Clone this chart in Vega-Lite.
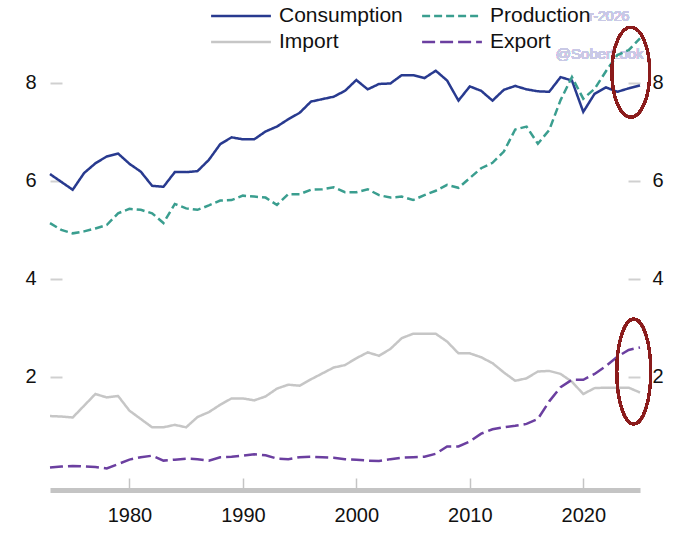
{
  "$schema": "https://vega.github.io/schema/vega-lite/v6.json",
  "width": 590,
  "height": 480,
  "autosize": {"type": "none"},
  "padding": {"left": 50, "top": 10, "right": 39, "bottom": 44},
  "background": "white",
  "config": {
    "view": {"stroke": null},
    "font": "Liberation Sans",
    "axis": {"grid": false, "labelFont": "Liberation Sans", "labelColor": "#111111", "labelFontSize": 20}
  },
  "data": {"values": [
    {"year": 1973, "Consumption": 6.14, "Production": 5.14, "Import": 1.20, "Export": 0.15},
    {"year": 1974, "Consumption": 5.98, "Production": 5.00, "Import": 1.19, "Export": 0.17},
    {"year": 1975, "Consumption": 5.82, "Production": 4.93, "Import": 1.17, "Export": 0.18},
    {"year": 1976, "Consumption": 6.16, "Production": 4.97, "Import": 1.41, "Export": 0.17},
    {"year": 1977, "Consumption": 6.36, "Production": 5.03, "Import": 1.65, "Export": 0.16},
    {"year": 1978, "Consumption": 6.50, "Production": 5.10, "Import": 1.58, "Export": 0.13},
    {"year": 1979, "Consumption": 6.56, "Production": 5.34, "Import": 1.61, "Export": 0.22},
    {"year": 1980, "Consumption": 6.35, "Production": 5.43, "Import": 1.31, "Export": 0.31},
    {"year": 1981, "Consumption": 6.19, "Production": 5.41, "Import": 1.14, "Export": 0.36},
    {"year": 1982, "Consumption": 5.90, "Production": 5.34, "Import": 0.97, "Export": 0.39},
    {"year": 1983, "Consumption": 5.88, "Production": 5.14, "Import": 0.97, "Export": 0.29},
    {"year": 1984, "Consumption": 6.18, "Production": 5.53, "Import": 1.02, "Export": 0.31},
    {"year": 1985, "Consumption": 6.18, "Production": 5.44, "Import": 0.97, "Export": 0.33},
    {"year": 1986, "Consumption": 6.20, "Production": 5.41, "Import": 1.18, "Export": 0.32},
    {"year": 1987, "Consumption": 6.43, "Production": 5.50, "Import": 1.28, "Export": 0.29},
    {"year": 1988, "Consumption": 6.75, "Production": 5.60, "Import": 1.43, "Export": 0.36},
    {"year": 1989, "Consumption": 6.89, "Production": 5.61, "Import": 1.56, "Export": 0.37},
    {"year": 1990, "Consumption": 6.85, "Production": 5.70, "Import": 1.56, "Export": 0.39},
    {"year": 1991, "Consumption": 6.85, "Production": 5.68, "Import": 1.52, "Export": 0.42},
    {"year": 1992, "Consumption": 7.01, "Production": 5.66, "Import": 1.60, "Export": 0.40},
    {"year": 1993, "Consumption": 7.11, "Production": 5.51, "Import": 1.76, "Export": 0.33},
    {"year": 1994, "Consumption": 7.26, "Production": 5.73, "Import": 1.84, "Export": 0.32},
    {"year": 1995, "Consumption": 7.39, "Production": 5.73, "Import": 1.82, "Export": 0.36},
    {"year": 1996, "Consumption": 7.62, "Production": 5.82, "Import": 1.95, "Export": 0.37},
    {"year": 1997, "Consumption": 7.67, "Production": 5.83, "Import": 2.07, "Export": 0.36},
    {"year": 1998, "Consumption": 7.72, "Production": 5.87, "Import": 2.19, "Export": 0.35},
    {"year": 1999, "Consumption": 7.84, "Production": 5.77, "Import": 2.24, "Export": 0.32},
    {"year": 2000, "Consumption": 8.06, "Production": 5.77, "Import": 2.38, "Export": 0.31},
    {"year": 2001, "Consumption": 7.87, "Production": 5.83, "Import": 2.50, "Export": 0.29},
    {"year": 2002, "Consumption": 7.98, "Production": 5.71, "Import": 2.43, "Export": 0.28},
    {"year": 2003, "Consumption": 7.99, "Production": 5.66, "Import": 2.57, "Export": 0.32},
    {"year": 2004, "Consumption": 8.16, "Production": 5.68, "Import": 2.79, "Export": 0.35},
    {"year": 2005, "Consumption": 8.16, "Production": 5.61, "Import": 2.88, "Export": 0.36},
    {"year": 2006, "Consumption": 8.10, "Production": 5.71, "Import": 2.88, "Export": 0.37},
    {"year": 2007, "Consumption": 8.25, "Production": 5.80, "Import": 2.88, "Export": 0.43},
    {"year": 2008, "Consumption": 8.05, "Production": 5.92, "Import": 2.72, "Export": 0.58},
    {"year": 2009, "Consumption": 7.64, "Production": 5.86, "Import": 2.48, "Export": 0.58},
    {"year": 2010, "Consumption": 7.93, "Production": 6.06, "Import": 2.48, "Export": 0.68},
    {"year": 2011, "Consumption": 7.84, "Production": 6.26, "Import": 2.40, "Export": 0.84},
    {"year": 2012, "Consumption": 7.64, "Production": 6.37, "Import": 2.28, "Export": 0.93},
    {"year": 2013, "Consumption": 7.86, "Production": 6.60, "Import": 2.09, "Export": 0.97},
    {"year": 2014, "Consumption": 7.94, "Production": 7.05, "Import": 1.92, "Export": 1.00},
    {"year": 2015, "Consumption": 7.87, "Production": 7.11, "Import": 1.97, "Export": 1.04},
    {"year": 2016, "Consumption": 7.83, "Production": 6.76, "Import": 2.11, "Export": 1.14},
    {"year": 2017, "Consumption": 7.82, "Production": 7.04, "Import": 2.12, "Export": 1.50},
    {"year": 2018, "Consumption": 8.12, "Production": 7.65, "Import": 2.06, "Export": 1.79},
    {"year": 2019, "Consumption": 8.05, "Production": 8.12, "Import": 1.90, "Export": 1.94},
    {"year": 2020, "Consumption": 7.41, "Production": 7.68, "Import": 1.65, "Export": 1.94},
    {"year": 2021, "Consumption": 7.78, "Production": 7.88, "Import": 1.77, "Export": 2.06},
    {"year": 2022, "Consumption": 7.91, "Production": 8.24, "Import": 1.78, "Export": 2.22},
    {"year": 2023, "Consumption": 7.82, "Production": 8.57, "Import": 1.78, "Export": 2.41},
    {"year": 2024, "Consumption": 7.89, "Production": 8.67, "Import": 1.78, "Export": 2.55},
    {"year": 2025, "Consumption": 7.95, "Production": 8.91, "Import": 1.68, "Export": 2.60}
  ]},
  "resolve": {"axis": {"y": "independent"}},
  "layer": [
    {
      "mark": {"type": "text", "text": "@SoberLook", "fontSize": 15, "color": "#c9c9e6", "font": "Liberation Sans"},
      "encoding": {
        "x": {"datum": 2021.45, "type": "quantitative", "scale": {"domain": [1973, 2025], "nice": false, "zero": false}},
        "y": {
          "datum": 8.6, "type": "quantitative",
          "scale": {"domain": [-0.31, 9.49], "nice": false, "zero": false},
          "axis": {
            "orient": "right", "values": [2, 4, 6, 8], "title": null, "domain": false,
            "tickColor": "#d0d0d0", "tickWidth": 2, "tickSize": -12, "labelPadding": 24
          }
        }
      }
    },
    {
      "mark": {"type": "text", "text": "r-2026", "fontSize": 14, "color": "#c9c9e6", "align": "right", "font": "Liberation Sans"},
      "encoding": {
        "x": {"datum": 2024.05, "type": "quantitative"},
        "y": {"datum": 9.35, "type": "quantitative", "axis": null}
      }
    },
    {
      "transform": [{"fold": ["Consumption", "Production", "Import", "Export"], "as": ["series", "value"]}],
      "mark": {"type": "line", "strokeWidth": 2.5},
      "encoding": {
        "x": {
          "field": "year", "type": "quantitative",
          "axis": {
            "values": [1980, 1990, 2000, 2010, 2020], "format": "d", "title": null,
            "domainColor": "#c4c4c4", "domainWidth": 5,
            "tickColor": "#c4c4c4", "tickWidth": 1.5, "tickSize": -12,
            "labelPadding": 27, "labelFlush": false
          }
        },
        "y": {
          "field": "value", "type": "quantitative",
          "axis": {
            "values": [2, 4, 6, 8], "title": null, "domain": false,
            "tickColor": "#d0d0d0", "tickWidth": 2, "tickSize": -12, "labelPadding": 26
          }
        },
        "color": {
          "field": "series", "type": "nominal",
          "scale": {"domain": ["Consumption", "Production", "Import", "Export"], "range": ["#283a8f", "#3a9e8f", "#c6c6c6", "#6b3fa0"]},
          "legend": {
            "title": null, "orient": "none", "legendX": 178, "legendY": -7, "columns": 2, "direction": "horizontal",
            "symbolType": "M -2.6 0 L 2.6 0", "symbolSize": 529, "symbolStrokeWidth": 2.5,
            "labelFontSize": 21, "labelColor": "#111111", "labelOffset": 25,
            "columnPadding": 14, "rowPadding": 3, "labelFont": "Liberation Sans"
          }
        },
        "strokeDash": {
          "field": "series", "type": "nominal",
          "scale": {"domain": ["Consumption", "Production", "Import", "Export"], "range": [[1, 0], [8, 4], [1, 0], [13, 5]]},
          "legend": {
            "title": null, "orient": "none", "legendX": 178, "legendY": -7, "columns": 2, "direction": "horizontal",
            "symbolType": "M -2.6 0 L 2.6 0", "symbolSize": 529, "symbolStrokeWidth": 2.5,
            "labelFontSize": 21, "labelColor": "#111111", "labelOffset": 25,
            "columnPadding": 14, "rowPadding": 3, "labelFont": "Liberation Sans"
          }
        }
      }
    },
    {
      "mark": {"type": "point", "shape": "M 0 -1 A 0.42 1 0 1 1 0 1 A 0.42 1 0 1 1 0 -1 Z", "size": 8100, "filled": false, "stroke": "#8b1c1c", "strokeWidth": 2.5, "opacity": 1},
      "encoding": {
        "x": {"datum": 2024.19, "type": "quantitative"},
        "y": {"datum": 8.22, "type": "quantitative", "axis": null}
      }
    },
    {
      "mark": {"type": "point", "shape": "M 0 -1 A 0.324 1 0 1 1 0 1 A 0.324 1 0 1 1 0 -1 Z", "size": 11025, "filled": false, "stroke": "#8b1c1c", "strokeWidth": 2.5, "opacity": 1},
      "encoding": {
        "x": {"datum": 2024.45, "type": "quantitative"},
        "y": {"datum": 2.11, "type": "quantitative", "axis": null}
      }
    }
  ]
}
